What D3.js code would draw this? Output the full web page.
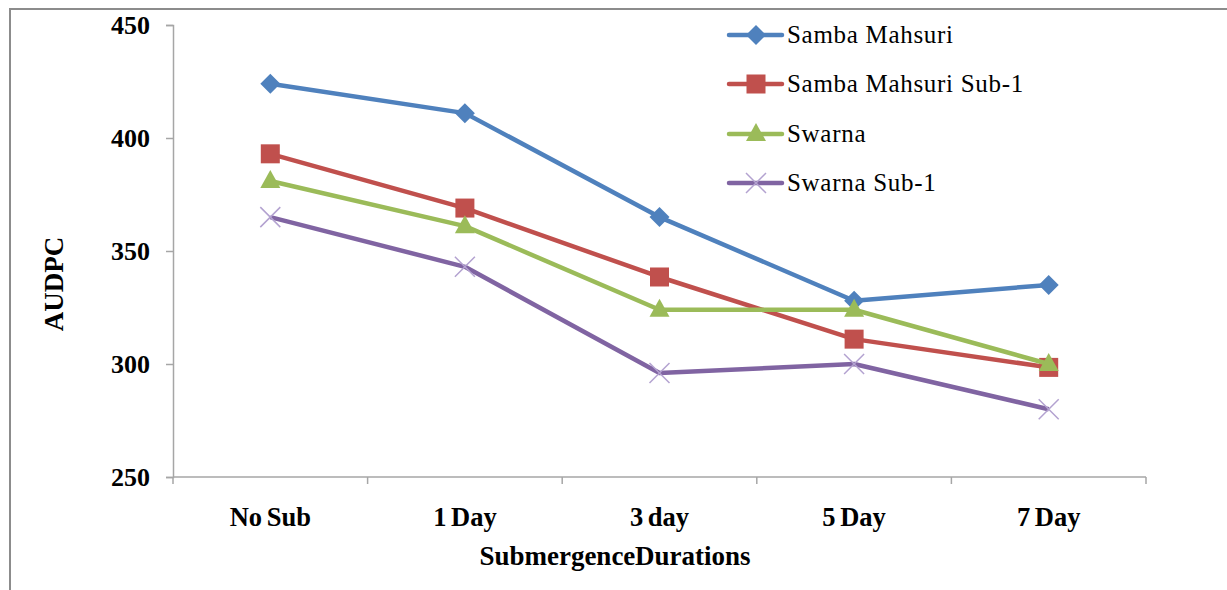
<!DOCTYPE html>
<html>
<head>
<meta charset="utf-8">
<script src="https://cdn.jsdelivr.net/npm/d3@7/dist/d3.min.js"></script>
<style>
  html, body { margin: 0; padding: 0; background: #fff; }
  svg { display: block; }
  svg text { font-family: "Liberation Serif", "Times New Roman", serif !important; }
</style>
</head>
<body>
<svg id="chart" width="1227" height="590"></svg>
<script>
// Submergence durations on the x axis
const categories = ["No Sub", "1 Day", "3 day", "5 Day", "7 Day"];

// AUDPC per variety
const sambaMahsuri     = [424, 411, 365, 328, 335];
const sambaMahsuriSub1 = [393, 369, 338.5, 311, 298.5];
const swarna           = [381, 361, 324, 324, 300];
const swarnaSub1       = [365, 343, 296, 300, 280];

const yTicks = [250, 300, 350, 400, 450];

const series = [
  { name: "Samba Mahsuri",       values: sambaMahsuri,     color: "#4F81BD", marker: "diamond" },
  { name: "Samba Mahsuri Sub-1", values: sambaMahsuriSub1, color: "#C0504D", marker: "square" },
  { name: "Swarna",              values: swarna,           color: "#9BBB59", marker: "triangle" },
  { name: "Swarna Sub-1",        values: swarnaSub1,       color: "#8064A2", marker: "cross" }
];

const serif = "Liberation Serif, Times New Roman, serif";
const svg = d3.select("#chart");

// outer chart frame
svg.append("rect")
  .attr("x", 10).attr("y", 9)
  .attr("width", 1240).attr("height", 620)
  .attr("fill", "none").attr("stroke", "#8c8c8c").attr("stroke-width", 2);

const plot = { left: 173, right: 1146, top: 25, bottom: 477 };

const x = d3.scaleBand().domain(categories).range([plot.left, plot.right]).padding(0);
const y = d3.scaleLinear().domain([250, 450]).range([plot.bottom, plot.top]);
const cx = d => x(d) + x.bandwidth() / 2;

const axisColor = "#a6a6a6";

// y axis
const yAxis = svg.append("g")
  .attr("transform", `translate(${plot.left},0)`)
  .call(d3.axisLeft(y).tickValues(yTicks).tickSize(7).tickPadding(16).tickFormat(d3.format("d")));
yAxis.attr("font-family", serif);
yAxis.select(".domain").attr("stroke", axisColor).attr("stroke-width", 1.5);
yAxis.selectAll(".tick line").attr("stroke", axisColor).attr("stroke-width", 1.5);
yAxis.selectAll(".tick text")
  .attr("fill", "#000").attr("font-size", 26).attr("font-weight", "bold")
  .attr("font-family", serif);

// x axis with ticks at band boundaries
const xAxisG = svg.append("g").attr("transform", `translate(0,${plot.bottom})`);
xAxisG.append("line")
  .attr("x1", plot.left).attr("x2", plot.right)
  .attr("stroke", axisColor).attr("stroke-width", 1.5);
const bounds = categories.map(c => x(c)).concat([plot.right]);
xAxisG.selectAll("line.tk").data(bounds).join("line")
  .attr("class", "tk")
  .attr("x1", d => d).attr("x2", d => d)
  .attr("y1", 0).attr("y2", 7)
  .attr("stroke", axisColor).attr("stroke-width", 1.5);
xAxisG.selectAll("text").data(categories).join("text")
  .attr("x", d => cx(d)).attr("y", 49)
  .attr("text-anchor", "middle")
  .attr("font-family", serif)
  .attr("font-size", 26.5).attr("font-weight", "bold").attr("fill", "#000")
  .attr("word-spacing", "-2px")
  .text(d => d);

// axis titles
svg.append("text")
  .attr("x", 615).attr("y", 565)
  .attr("text-anchor", "middle")
  .attr("font-family", serif)
  .attr("font-size", 27).attr("font-weight", "bold").attr("fill", "#000")
  .attr("word-spacing", "-7px")
  .text("Submergence Durations");

svg.append("text")
  .attr("transform", "translate(63,284) rotate(-90)")
  .attr("text-anchor", "middle")
  .attr("font-family", serif)
  .attr("font-size", 27).attr("font-weight", "bold").attr("fill", "#000")
  .text("AUDPC");

// marker shapes
function drawMarker(g, type, color, px, py) {
  if (type === "diamond") {
    g.append("path")
      .attr("d", `M${px},${py - 10}L${px + 10},${py}L${px},${py + 10}L${px - 10},${py}Z`)
      .attr("fill", color);
  } else if (type === "square") {
    g.append("rect")
      .attr("x", px - 9.5).attr("y", py - 9.5).attr("width", 19).attr("height", 19)
      .attr("fill", color);
  } else if (type === "triangle") {
    g.append("path")
      .attr("d", `M${px},${py - 11}L${px + 10},${py + 7}L${px - 10},${py + 7}Z`)
      .attr("fill", color);
  } else if (type === "cross") {
    g.append("path")
      .attr("d", `M${px - 10},${py - 10}L${px + 10},${py + 10}M${px - 10},${py + 10}L${px + 10},${py - 10}`)
      .attr("stroke", "#b3a2d0").attr("stroke-width", 1.5).attr("fill", "none");
  }
}

const line = d3.line().x((d, i) => cx(categories[i])).y(d => y(d));

series.forEach(s => {
  const g = svg.append("g");
  g.append("path")
    .attr("d", line(s.values))
    .attr("fill", "none").attr("stroke", s.color)
    .attr("stroke-width", 4.5).attr("stroke-linejoin", "round");
  s.values.forEach((v, i) => drawMarker(g, s.marker, s.color, cx(categories[i]), y(v)));
});

// legend
const legendRows = [35, 84, 134, 183];
const legend = svg.append("g");
series.forEach((s, i) => {
  const ly = legendRows[i];
  const lg = legend.append("g");
  lg.append("line")
    .attr("x1", 729).attr("x2", 782).attr("y1", ly).attr("y2", ly)
    .attr("stroke", s.color).attr("stroke-width", 4.5).attr("stroke-linecap", "round");
  drawMarker(lg, s.marker, s.color, 756, ly);
  lg.append("text")
    .attr("x", 787).attr("y", ly + 8)
    .attr("font-family", serif)
    .attr("font-size", 25).attr("fill", "#000")
    .attr("letter-spacing", "0.7px")
    .text(s.name);
});
</script>
</body>
</html>
